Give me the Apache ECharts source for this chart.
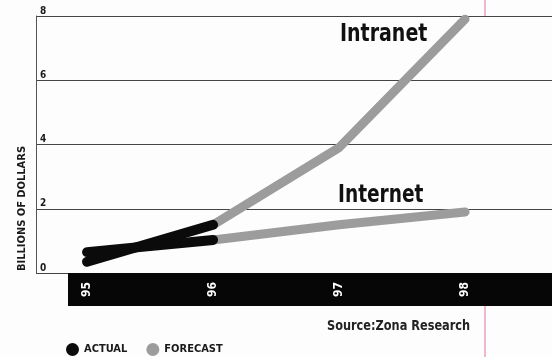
<!DOCTYPE html>
<html>
<head>
<meta charset="utf-8">
<script src="https://cdn.jsdelivr.net/npm/echarts@6/dist/echarts.min.js"></script>
<style>
html,body{margin:0;padding:0;background:#fdfdfd;}
#c{width:552px;height:357px;}
</style>
</head>
<body>
<div id="c"></div>
<script>
// ---- data ----
var years = [95, 96, 97, 98];
var tickLabels = ['95', '96', '97', '98'];
var intranetValues = [0.35, 1.5, 3.9, 7.9];
var internetValues = [0.65, 1.03, 1.5, 1.9];
var actualYears = [95, 96];      // actual data
var forecastYears = [96, 97, 98]; // forecast data
var yTicks = [0, 2, 4, 6, 8];

var FONT = '"Liberation Sans Narrow", "DejaVu Sans Condensed", "Roboto Condensed", sans-serif';

function pick(vals, ys) {
  return ys.map(function (y) { return [y, vals[years.indexOf(y)]]; });
}

var chart = echarts.init(document.getElementById('c'), null, {renderer: 'canvas'});

var grayStyle = {color: '#9c9c9c', width: 9, cap: 'round', join: 'round'};
var blackStyle = {color: '#0b0b0b', width: 10, cap: 'round', join: 'round'};

chart.setOption({
  backgroundColor: '#fdfdfd',
  animation: false,
  grid: {left: 36, right: 0, top: 16, bottom: 84},
  legend: {
    left: 61, top: 338,
    itemWidth: 13, itemHeight: 13, itemGap: 19,
    icon: 'circle',
    textStyle: {fontFamily: FONT, fontWeight: 'bold', fontSize: 11, color: '#1a1a1a'},
    data: [
      {name: 'ACTUAL', itemStyle: {color: '#0b0b0b'}},
      {name: 'FORECAST', itemStyle: {color: '#9c9c9c'}}
    ]
  },
  xAxis: {
    type: 'value',
    min: 94.595, max: 98.69,
    z: 10,
    axisLine: {show: false},
    axisTick: {show: false},
    splitLine: {show: false},
    axisLabel: {
      customValues: years,
      rotate: 90,
      margin: 9,
      color: '#ffffff',
      fontFamily: FONT,
      fontWeight: 'bold',
      fontSize: 12,
      formatter: function (v) { return tickLabels[years.indexOf(Math.round(v))]; }
    }
  },
  yAxis: {
    type: 'value',
    min: yTicks[0], max: yTicks[yTicks.length - 1], interval: 2,
    name: 'BILLIONS OF DOLLARS',
    nameLocation: 'middle',
    nameRotate: 90,
    nameGap: 8,
    nameTextStyle: {fontFamily: FONT, fontWeight: 'bold', fontSize: 11, color: '#1a1a1a', padding: [0, 128, 0, 0]},
    axisLine: {show: true, lineStyle: {color: '#555', width: 1}},
    axisTick: {show: false},
    splitLine: {show: true, lineStyle: {color: '#444', width: 1}},
    axisLabel: {
      inside: true, margin: 4, verticalAlign: 'bottom',
      color: '#1a1a1a', fontFamily: FONT, fontWeight: 'bold', fontSize: 10,
      showMinLabel: true, showMaxLabel: true
    }
  },
  graphic: [
    {type: 'rect', z: 1, shape: {x: 68, y: 273, width: 484, height: 33}, style: {fill: '#060606'}},
    {type: 'line', z: 1, shape: {x1: 485, y1: 0, x2: 485, y2: 16}, style: {stroke: '#e46fa6', lineWidth: 1}},
    {type: 'line', z: 1, shape: {x1: 485, y1: 306, x2: 485, y2: 357}, style: {stroke: '#e46fa6', lineWidth: 1}},
    {type: 'text', z: 20, left: 340, top: 23, scaleX: 0.88, style: {text: 'Intranet', fill: '#111', font: 'bold 24px ' + FONT}},
    {type: 'text', z: 20, left: 338, top: 184, scaleX: 0.86, style: {text: 'Internet', fill: '#111', font: 'bold 24px ' + FONT}},
    {type: 'text', z: 20, left: 327, top: 319, scaleX: 0.9, style: {text: 'Source:Zona Research', fill: '#222', font: 'bold 14px ' + FONT}}
  ],
  series: [
    {name: 'FORECAST', type: 'line', data: pick(intranetValues, forecastYears), showSymbol: false, lineStyle: grayStyle, itemStyle: {color: '#9c9c9c'}, z: 3},
    {name: 'FORECAST', type: 'line', data: pick(internetValues, forecastYears), showSymbol: false, lineStyle: grayStyle, itemStyle: {color: '#9c9c9c'}, z: 3},
    {name: 'ACTUAL', type: 'line', data: pick(intranetValues, actualYears), showSymbol: false, lineStyle: blackStyle, itemStyle: {color: '#0b0b0b'}, z: 4},
    {name: 'ACTUAL', type: 'line', data: pick(internetValues, actualYears), showSymbol: false, lineStyle: blackStyle, itemStyle: {color: '#0b0b0b'}, z: 4}
  ]
});
</script>
</body>
</html>
